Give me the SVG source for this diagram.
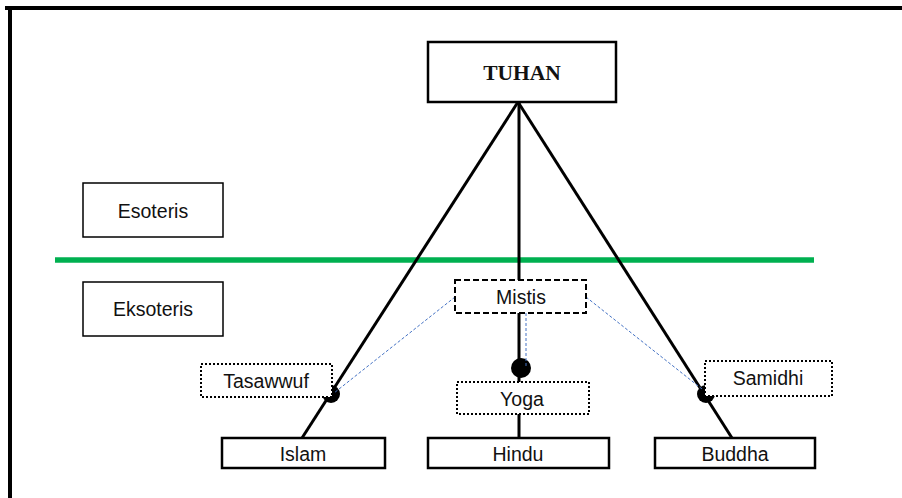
<svg xmlns="http://www.w3.org/2000/svg" width="902" height="498" viewBox="0 0 902 498">
<style>
.lbl{font-family:"Liberation Sans","Open Sans",sans-serif;font-size:19.5px;fill:#111;text-anchor:middle;dominant-baseline:central}
.box{fill:#fff;stroke:#000;stroke-width:2.5}
.thin{fill:#fff;stroke:#000;stroke-width:1.5}
.dot{fill:#fff;stroke:#000;stroke-width:2;stroke-dasharray:2 2}
.dash{fill:#fff;stroke:#000;stroke-width:2;stroke-dasharray:6 3}
.main{stroke:#000;stroke-width:3;fill:none}
.blue{stroke:#4472C4;stroke-width:1;stroke-dasharray:3 2;fill:none}
</style>
<rect width="902" height="498" fill="#fff"/>
<g id="frame">
<line x1="5" y1="8" x2="902" y2="8" stroke="#000" stroke-width="4"/>
<line x1="10" y1="6" x2="10" y2="498" stroke="#000" stroke-width="4"/>
</g>
<line id="divider" x1="55" y1="260" x2="814" y2="260" stroke="#00B050" stroke-width="5.5"/>
<g id="connectors">
<line class="main" x1="518" y1="102" x2="302" y2="438"/>
<line class="main" x1="519" y1="102" x2="519" y2="438"/>
<line class="main" x1="518" y1="102" x2="732" y2="438"/>
<circle cx="331" cy="394" r="9" fill="#000"/>
<circle cx="521" cy="368" r="10" fill="#000"/>
<circle cx="706" cy="394" r="9" fill="#000"/>
<line class="blue" x1="455" y1="297" x2="334" y2="393"/>
<line class="blue" x1="586" y1="297" x2="702" y2="389"/>
<line class="blue" x1="526" y1="313" x2="526" y2="368"/>
</g>
<g id="tuhan">
<rect class="box" x="428" y="42" width="188" height="60"/>
<text x="522" y="73" font-family="Liberation Serif,serif" font-weight="bold" font-size="21.5" text-anchor="middle" dominant-baseline="central" fill="#111">TUHAN</text>
</g>
<g id="esoteris">
<rect class="thin" x="83" y="183" width="140" height="54"/>
<text class="lbl" x="153" y="211">Esoteris</text>
</g>
<g id="eksoteris">
<rect class="thin" x="83" y="282" width="140" height="54"/>
<text class="lbl" x="153" y="309">Eksoteris</text>
</g>
<g id="mistis">
<rect class="dash" x="455" y="280" width="131" height="33"/>
<text class="lbl" x="521" y="297">Mistis</text>
</g>
<g id="tasawwuf">
<rect class="dot" x="201" y="364" width="131" height="33"/>
<text class="lbl" x="266" y="381">Tasawwuf</text>
</g>
<g id="yoga">
<rect class="dot" x="457" y="382" width="132" height="32"/>
<text class="lbl" x="522" y="399">Yoga</text>
</g>
<g id="samidhi">
<rect class="dot" x="705" y="361" width="127" height="35"/>
<text class="lbl" x="768" y="378">Samidhi</text>
</g>
<g id="islam">
<rect class="box" x="222" y="438" width="163" height="30"/>
<text class="lbl" x="303" y="454">Islam</text>
</g>
<g id="hindu">
<rect class="box" x="428" y="438" width="181" height="30"/>
<text class="lbl" x="518" y="454">Hindu</text>
</g>
<g id="buddha">
<rect class="box" x="655" y="438" width="160" height="30"/>
<text class="lbl" x="735" y="454">Buddha</text>
</g>
</svg>
